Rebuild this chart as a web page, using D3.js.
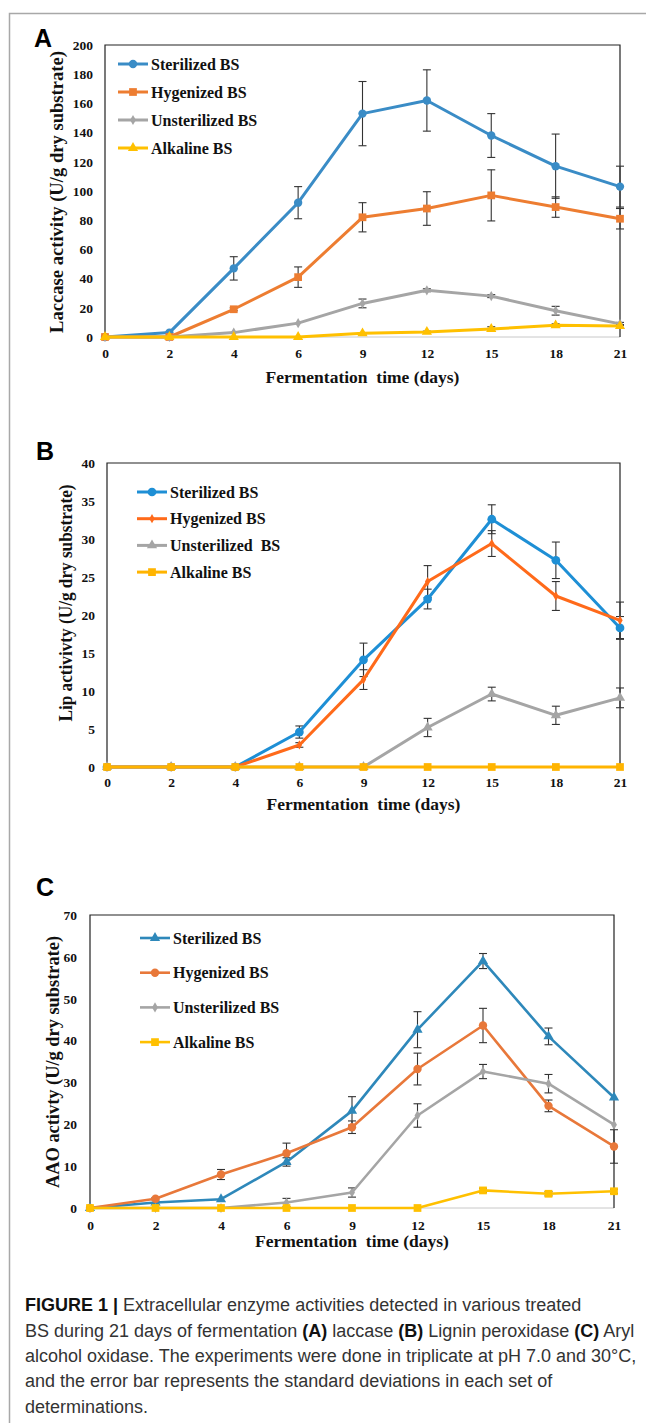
<!DOCTYPE html>
<html>
<head>
<meta charset="utf-8">
<script src="https://cdn.jsdelivr.net/npm/d3@7"></script>
<style>
body{margin:0;background:#fff}
svg{display:block}
</style>
</head>
<body>
<script>
// values (mean, error bar half-length)
var days = ["0","2","4","6","9","12","15","18","21"];
var names = ["Sterilized BS","Hygenized BS","Unsterilized BS","Alkaline BS"];
var namesB = ["Sterilized BS","Hygenized BS","Unsterilized  BS","Alkaline BS"];

// A - laccase
var lacSterilized    = [0, 3, 47, 92, 153, 162, 138, 117, 103];
var lacSterilizedErr = [0, 0, 8, 11, 22, 21, 15, 22, 14];
var lacHygenized     = [0, 0, 19, 41, 82, 88, 97, 89, 81];
var lacHygenizedErr  = [0, 0, 1, 7, 10, 11.5, 17.5, 7, 7];
var lacUnsterilized    = [0, 0, 3, 9.5, 23, 32, 28, 18, 9];
var lacUnsterilizedErr = [0, 0, 0, 0, 3, 1, 1, 3, 1];
var lacAlkaline      = [0, 0, 0, 0, 2.5, 3.5, 5.5, 8, 7.5];
var lacAlkalineErr   = [0, 0, 0, 0, 0.5, 0.5, 1.5, 1, 1];

// B - lignin peroxidase
var lipSterilized    = [0, 0, 0, 4.6, 14.1, 22.1, 32.6, 27.2, 18.3];
var lipSterilizedErr = [0, 0, 0, 0.8, 2.2, 1.3, 1.9, 2.4, 1.5];
var lipHygenized     = [0, 0, 0, 2.9, 11.5, 24.4, 29.4, 22.5, 19.3];
var lipHygenizedErr  = [0, 0, 0, 0.3, 1.3, 2.1, 1.7, 1.9, 2.4];
var lipUnsterilized    = [0, 0, 0, 0, 0, 5.2, 9.6, 6.8, 9.1];
var lipUnsterilizedErr = [0, 0, 0, 0, 0, 1.2, 0.9, 1.2, 1.3];
var lipAlkaline      = [0, 0, 0, 0, 0, 0, 0, 0, 0];
var lipAlkalineErr   = [0, 0, 0, 0, 0, 0, 0, 0, 0];

// C - aryl alcohol oxidase
var aaoSterilized    = [0, 1.3, 2.1, 11, 23.2, 42.6, 59, 41, 26.4];
var aaoSterilizedErr = [0, 0, 0, 1, 3.4, 4.3, 1.8, 2, 0];
var aaoHygenized     = [0, 2.2, 8, 13.1, 19.3, 33.2, 43.6, 24.4, 14.7];
var aaoHygenizedErr  = [0, 0.3, 1.2, 2.4, 1.5, 3.8, 4.1, 1.4, 4];
var aaoUnsterilized    = [0, 0, 0, 1.3, 3.7, 22.1, 32.6, 29.7, 19.9];
var aaoUnsterilizedErr = [0, 0, 0, 1, 1.1, 2.8, 1.7, 2.2, 0];
var aaoAlkaline      = [0, 0, 0, 0, 0, 0, 4.2, 3.4, 4.0];
var aaoAlkalineErr   = [0, 0, 0, 0, 0, 0, 0.5, 0.5, 0.5];

var serif = "'Liberation Serif','Times New Roman',serif";
var sans = "'Liberation Sans',Arial,sans-serif";

var svg = d3.select('body').append('svg')
	.attr('width', 646)
	.attr('height', 1423);

svg.append('rect').attr('width', 646).attr('height', 1423).attr('fill', '#fff');

// outer frame (top + left only)
svg.append('path')
	.attr('d', 'M646,13.5H9.5V1423')
	.attr('fill', 'none')
	.attr('stroke', '#a8a8a8')
	.attr('stroke-width', 1.5);

var panels = [
	{
		label: 'A', labelX: 34, labelY: 47,
		left: 105, right: 620, top: 45, bottom: 337,
		yMax: 200, yStep: 20, tickRight: 93,
		xTickY: 353, xTitleY: 377,
		yTitle: 'Laccase activity (U/g dry substrate)', yTitleX: 57, yTitleY: 192, yTitleLen: 282,
		legendX: 118, legendY: 64, legendStep: 28, lineW: 3,
		series: [
			{name: names[0], v: lacSterilized, e: lacSterilizedErr, color: '#3a8cc6', sym: d3.symbolCircle, size: 55},
			{name: names[1], v: lacHygenized, e: lacHygenizedErr, color: '#ed7d31', sym: d3.symbolSquare, size: 60},
			{name: names[2], v: lacUnsterilized, e: lacUnsterilizedErr, color: '#a5a5a5', sym: d3.symbolDiamond, size: 30},
			{name: names[3], v: lacAlkaline, e: lacAlkalineErr, color: '#ffc000', sym: d3.symbolTriangle, size: 45}
		]
	},
	{
		label: 'B', labelX: 36, labelY: 460,
		left: 107, right: 620, top: 463, bottom: 767,
		yMax: 40, yStep: 5, tickRight: 95,
		xTickY: 782, xTitleY: 804,
		yTitle: 'Lip activivty (U/g dry substrate)', yTitleX: 66, yTitleY: 603, yTitleLen: 237,
		legendX: 137, legendY: 492, legendStep: 26.7, lineW: 3,
		series: [
			{name: namesB[0], v: lipSterilized, e: lipSterilizedErr, color: '#1e8fd5', sym: d3.symbolCircle, size: 60},
			{name: namesB[1], v: lipHygenized, e: lipHygenizedErr, color: '#ff6a1a', sym: d3.symbolDiamond, size: 25},
			{name: namesB[2], v: lipUnsterilized, e: lipUnsterilizedErr, color: '#a5a5a5', sym: d3.symbolTriangle, size: 45},
			{name: namesB[3], v: lipAlkaline, e: lipAlkalineErr, color: '#ffb400', sym: d3.symbolSquare, size: 60}
		]
	},
	{
		label: 'C', labelX: 36, labelY: 896,
		left: 90, right: 614, top: 915, bottom: 1208,
		yMax: 70, yStep: 10, tickRight: 77,
		xTickY: 1225, xTitleY: 1241,
		yTitle: 'AAO activty (U/g dry substrate)', yTitleX: 53, yTitleY: 1062, yTitleLen: 252,
		legendX: 140, legendY: 938, legendStep: 34.7, lineW: 2.6,
		series: [
			{name: names[0], v: aaoSterilized, e: aaoSterilizedErr, color: '#2e88ba', sym: d3.symbolTriangle, size: 45},
			{name: names[1], v: aaoHygenized, e: aaoHygenizedErr, color: '#e8783a', sym: d3.symbolCircle, size: 55},
			{name: names[2], v: aaoUnsterilized, e: aaoUnsterilizedErr, color: '#a5a5a5', sym: d3.symbolDiamond, size: 30},
			{name: names[3], v: aaoAlkaline, e: aaoAlkalineErr, color: '#ffc000', sym: d3.symbolSquare, size: 60}
		]
	}
];

panels.forEach(drawPanel);

function drawPanel(p){
	var g = svg.append('g');
	var x = d3.scalePoint().domain(days).range([p.left, p.right]).padding(0);
	var y = d3.scaleLinear().domain([0, p.yMax]).range([p.bottom, p.top]);

	// panel letter
	g.append('text')
		.attr('x', p.labelX).attr('y', p.labelY)
		.attr('font-family', sans).attr('font-weight', 'bold').attr('font-size', 25)
		.attr('fill', '#000')
		.text(p.label);

	// y axis labels
	var ya = g.append('g')
		.attr('transform', 'translate(' + p.left + ',0)')
		.call(d3.axisLeft(y).tickValues(d3.range(0, p.yMax + 1, p.yStep)).tickSize(0).tickPadding(p.left - p.tickRight));
	ya.select('.domain').remove();
	ya.selectAll('text')
		.attr('font-family', serif).attr('font-weight', 'bold').attr('font-size', 13.5)
		.attr('fill', '#111');

	// x axis labels
	var xa = g.append('g')
		.attr('transform', 'translate(0,' + p.bottom + ')')
		.call(d3.axisBottom(x).tickSize(0));
	xa.select('.domain').remove();
	xa.selectAll('text')
		.attr('y', p.xTickY - p.bottom).attr('dy', '0.35em')
		.attr('font-family', serif).attr('font-weight', 'bold').attr('font-size', 13.5)
		.attr('fill', '#111');

	// plot frame: dark top/left/right, light bottom
	g.append('line')
		.attr('x1', p.left).attr('x2', p.right).attr('y1', p.bottom).attr('y2', p.bottom)
		.attr('stroke', '#c8c8c8').attr('stroke-width', 1);
	g.append('path')
		.attr('d', 'M' + p.left + ',' + p.bottom + 'V' + p.top + 'H' + p.right + 'V' + p.bottom)
		.attr('fill', 'none').attr('stroke', '#222').attr('stroke-width', 1.2);

	// axis titles
	g.append('text')
		.attr('x', (p.left + p.right) / 2).attr('y', p.xTitleY).attr('dy', '0.35em')
		.attr('text-anchor', 'middle')
		.attr('font-family', serif).attr('font-weight', 'bold').attr('font-size', 17.5)
		.attr('fill', '#111')
		.style('white-space', 'pre')
		.text('Fermentation  time (days)');

	g.append('text')
		.attr('transform', 'translate(' + p.yTitleX + ',' + p.yTitleY + ') rotate(-90)')
		.attr('dy', '0.35em')
		.attr('text-anchor', 'middle')
		.attr('font-family', serif).attr('font-weight', 'bold').attr('font-size', 18)
		.attr('textLength', p.yTitleLen).attr('lengthAdjust', 'spacingAndGlyphs')
		.attr('fill', '#111')
		.text(p.yTitle);

	// error bars underneath the lines
	p.series.forEach(function(s){
		var eb = g.append('g').attr('stroke', '#333').attr('stroke-width', 1.1);
		s.v.forEach(function(v, i){
			var e = s.e[i];
			if(!e) return;
			var cx = x(days[i]);
			eb.append('line').attr('x1', cx).attr('x2', cx).attr('y1', y(v - e)).attr('y2', y(v + e));
			eb.append('line').attr('x1', cx - 4).attr('x2', cx + 4).attr('y1', y(v - e)).attr('y2', y(v - e));
			eb.append('line').attr('x1', cx - 4).attr('x2', cx + 4).attr('y1', y(v + e)).attr('y2', y(v + e));
		});
	});

	var line = d3.line()
		.x(function(d, i){ return x(days[i]); })
		.y(function(d){ return y(d); });

	p.series.forEach(function(s){
		g.append('path').datum(s.v)
			.attr('d', line)
			.attr('fill', 'none')
			.attr('stroke', s.color)
			.attr('stroke-width', p.lineW)
			.attr('stroke-linejoin', 'round');

		g.selectAll(null).data(s.v).enter()
			.append('path')
			.attr('transform', function(d, i){ return 'translate(' + x(days[i]) + ',' + y(d) + ')'; })
			.attr('d', d3.symbol().type(s.sym).size(s.size))
			.attr('fill', s.color);
	});

	// legend
	var lg = g.append('g');
	p.series.forEach(function(s, i){
		var ly = p.legendY + i * p.legendStep;
		lg.append('line')
			.attr('x1', p.legendX).attr('x2', p.legendX + 30)
			.attr('y1', ly).attr('y2', ly)
			.attr('stroke', s.color).attr('stroke-width', p.lineW);
		lg.append('path')
			.attr('transform', 'translate(' + (p.legendX + 15) + ',' + ly + ')')
			.attr('d', d3.symbol().type(s.sym).size(s.size))
			.attr('fill', s.color);
		lg.append('text')
			.attr('x', p.legendX + 33).attr('y', ly).attr('dy', '0.35em')
			.attr('font-family', serif).attr('font-weight', 'bold').attr('font-size', 16)
			.attr('fill', '#111')
			.style('white-space', 'pre')
			.text(s.name);
	});
}

// caption
var caption = [
	[['FIGURE 1 | ', true], ['Extracellular enzyme activities detected in various treated', false]],
	[['BS during 21 days of fermentation ', false], ['(A)', true], [' laccase ', false], ['(B)', true], [' Lignin peroxidase ', false], ['(C)', true], [' Aryl', false]],
	[['alcohol oxidase. The experiments were done in triplicate at pH 7.0 and 30\u00b0C,', false]],
	[['and the error bar represents the standard deviations in each set of', false]],
	[['determinations.', false]]
];

var cap = svg.append('g')
	.attr('font-family', sans)
	.attr('font-size', 18)
	.style('white-space', 'pre');

caption.forEach(function(row, i){
	var t = cap.append('text')
		.attr('x', 25)
		.attr('y', 1305 + i * 25.3)
		.attr('dy', '0.35em');
	row.forEach(function(seg){
		t.append('tspan')
			.attr('font-weight', seg[1] ? 'bold' : 'normal')
			.attr('fill', seg[1] ? '#111' : '#333')
			.text(seg[0]);
	});
});
</script>
</body>
</html>
